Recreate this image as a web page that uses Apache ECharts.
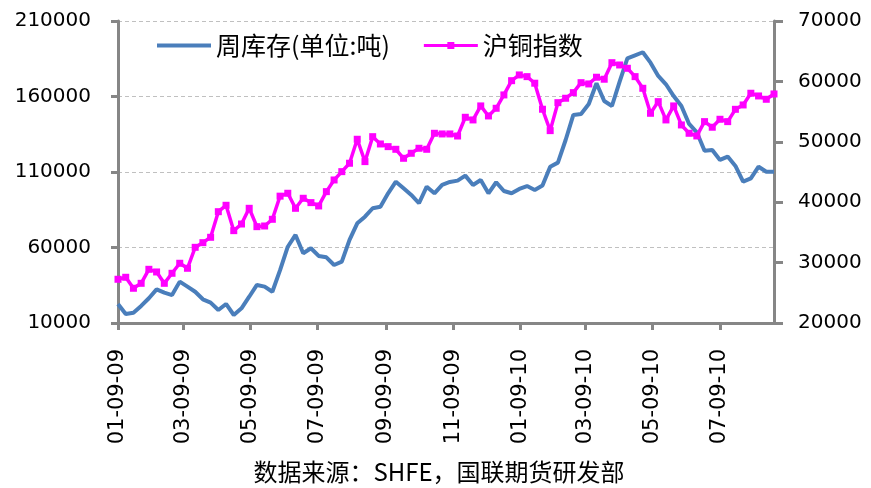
<!DOCTYPE html>
<html>
<head>
<meta charset="utf-8">
<title>周库存与沪铜指数</title>
<script src="https://cdn.jsdelivr.net/npm/echarts@6.0.0/dist/echarts.min.js"></script>
<style>
  html, body { margin: 0; padding: 0; background: #fff; }
  #chart { width: 871px; height: 488px; }
</style>
</head>
<body>
<div id="chart"></div>
<script>
// 周度日期（每周五）
const dates = [
  '2009-01-09', '2009-01-16', '2009-01-23', '2009-01-30', '2009-02-06', '2009-02-13', '2009-02-20', '2009-02-27',
  '2009-03-06', '2009-03-13', '2009-03-20', '2009-03-27', '2009-04-03', '2009-04-10', '2009-04-17', '2009-04-24',
  '2009-05-01', '2009-05-08', '2009-05-15', '2009-05-22', '2009-05-29', '2009-06-05', '2009-06-12', '2009-06-19',
  '2009-06-26', '2009-07-03', '2009-07-10', '2009-07-17', '2009-07-24', '2009-07-31', '2009-08-07', '2009-08-14',
  '2009-08-21', '2009-08-28', '2009-09-04', '2009-09-11', '2009-09-18', '2009-09-25', '2009-10-02', '2009-10-09',
  '2009-10-16', '2009-10-23', '2009-10-30', '2009-11-06', '2009-11-13', '2009-11-20', '2009-11-27', '2009-12-04',
  '2009-12-11', '2009-12-18', '2009-12-25', '2010-01-01', '2010-01-08', '2010-01-15', '2010-01-22', '2010-01-29',
  '2010-02-05', '2010-02-12', '2010-02-19', '2010-02-26', '2010-03-05', '2010-03-12', '2010-03-19', '2010-03-26',
  '2010-04-02', '2010-04-09', '2010-04-16', '2010-04-23', '2010-04-30', '2010-05-07', '2010-05-14', '2010-05-21',
  '2010-05-28', '2010-06-04', '2010-06-11', '2010-06-18', '2010-06-25', '2010-07-02', '2010-07-09', '2010-07-16',
  '2010-07-23', '2010-07-30', '2010-08-06', '2010-08-13', '2010-08-20', '2010-08-27'
];

// 周库存（吨），左轴
const stock = [
  22600, 16000, 16800, 21300, 26400, 32300, 30100, 28500, 37400, 34100,
  30700, 25700, 23500, 18600, 22600, 15300, 19700, 27400, 35200, 34100,
  30700, 45000, 60500, 68300, 56200, 59500, 54400, 53500, 48400, 50600,
  65000, 76000, 80400, 86000, 87000, 95900, 103600, 99200, 94800, 89300,
  100300, 95900, 101500, 103400, 104300, 107600, 101400, 104700, 95900, 103200,
  97400, 95900, 98800, 100700, 98100, 101000, 113500, 116200, 131200, 147800,
  148400, 155000, 168800, 157000, 153700, 169800, 185300, 187300, 189300, 182400,
  173600, 168100, 160300, 153700, 141800, 136300, 124100, 124600, 118000, 120200,
  114000, 103600, 105800, 113500, 110200, 110200
];

// 沪铜指数，右轴
const cuIndex = [
  27240, 27570, 25750, 26570, 28890, 28450, 26570, 28230, 29890, 29060,
  32530, 33300, 34190, 38430, 39490, 35290, 36390, 38990, 35950, 36060,
  37170, 41000, 41480, 38990, 40650, 39930, 39380, 41750, 43680, 45060,
  46450, 50420, 46720, 50850, 49640, 49200, 48760, 47270, 48100, 48930,
  48760, 51410, 51300, 51300, 50960, 54060, 53620, 55940, 54280, 55550,
  57760, 60120, 61070, 60790, 59700, 55390, 51850, 56480, 57210, 58140,
  59790, 59580, 60690, 60360, 63100, 62720, 62170, 60790, 58860, 54720,
  56650, 53620, 55940, 52790, 51410, 50970, 53340, 52410, 53730, 53340,
  55380, 56100, 58040, 57590, 57040, 57920
];

// 横轴刻度（两个月一档）
const tickDates = [
  '2009-01-09', '2009-03-09', '2009-05-09', '2009-07-09', '2009-09-09',
  '2009-11-09', '2010-01-09', '2010-03-09', '2010-05-09', '2010-07-09'
];

const DAY = 86400000;
function toTime(s) {
  const [y, m, d] = s.split('-').map(Number);
  return Date.UTC(y, m - 1, d);
}
const t0 = toTime(dates[0]);
// 横轴用距首日的天数
function toDay(s) {
  return Math.round((toTime(s) - t0) / DAY);
}
function pad(n) {
  return n < 10 ? '0' + n : '' + n;
}

const gray = '#868686';
const axisLine = {show: true, onZero: false, lineStyle: {color: gray, width: 3}};
const axisTick = {show: true, length: 7, lineStyle: {color: gray, width: 3}};
const numLabel = {color: '#000', fontSize: 20, fontFamily: 'DejaVu Sans', formatter: v => String(v)};
const tickDays = tickDates.map(toDay);

const chart = echarts.init(document.getElementById('chart'));
chart.setOption({
  animation: false,
  backgroundColor: '#fff',
  grid: {left: 118, right: 97, top: 21, bottom: 165},
  legend: {
    left: 152,
    top: 28,
    itemWidth: 54,
    itemHeight: 8,
    itemGap: 34,
    textStyle: {color: '#000', fontSize: 25, fontFamily: 'Noto Sans CJK SC'},
    data: [
      {name: '周库存(单位:吨)', icon: 'path://M0,0H54V4H0Z'},
      {name: '沪铜指数', icon: 'path://M0,2H23.5V0H30.5V2H54V5H30.5V7H23.5V5H0Z'}
    ]
  },
  xAxis: {
    type: 'value',
    min: 0,
    max: toDay(dates[dates.length - 1]),
    axisLine: axisLine,
    axisTick: {...axisTick, customValues: tickDays},
    splitLine: {show: false},
    axisLabel: {
      customValues: tickDays,
      rotate: 90,
      margin: 26,
      color: '#000',
      fontSize: 21,
      fontFamily: 'DejaVu Sans',
      formatter: v => {
        const d = new Date(t0 + v * DAY);
        return pad(d.getUTCMonth() + 1) + '-' + pad(d.getUTCDate()) + '-' + pad(d.getUTCFullYear() % 100);
      }
    }
  },
  yAxis: [
    {
      type: 'value',
      min: 10000,
      max: 210000,
      interval: 50000,
      axisLine: axisLine,
      axisTick: axisTick,
      axisLabel: {...numLabel, margin: 27},
      splitLine: {show: true, lineStyle: {color: '#c0c0c0', type: [4, 3], width: 1}}
    },
    {
      type: 'value',
      position: 'right',
      min: 20000,
      max: 70000,
      interval: 10000,
      axisLine: axisLine,
      axisTick: {...axisTick, length: 9},
      axisLabel: {...numLabel, margin: 24},
      splitLine: {show: false}
    }
  ],
  series: [
    {
      name: '周库存(单位:吨)',
      type: 'line',
      yAxisIndex: 0,
      symbol: 'none',
      lineStyle: {color: '#4a7ebb', width: 4},
      itemStyle: {color: '#4a7ebb'},
      data: dates.map((d, i) => [toDay(d), stock[i]])
    },
    {
      name: '沪铜指数',
      type: 'line',
      yAxisIndex: 1,
      symbol: 'rect',
      symbolSize: 7,
      showAllSymbol: true,
      lineStyle: {color: '#ff00ff', width: 3.5},
      itemStyle: {color: '#ff00ff'},
      data: dates.map((d, i) => [toDay(d), cuIndex[i]])
    }
  ],
  graphic: [{
    type: 'text',
    x: 439,
    y: 472,
    style: {
      text: '数据来源：SHFE，国联期货研发部',
      fill: '#000',
      font: '24px "Noto Sans CJK SC"',
      align: 'center',
      verticalAlign: 'middle'
    }
  }]
});
</script>
</body>
</html>
